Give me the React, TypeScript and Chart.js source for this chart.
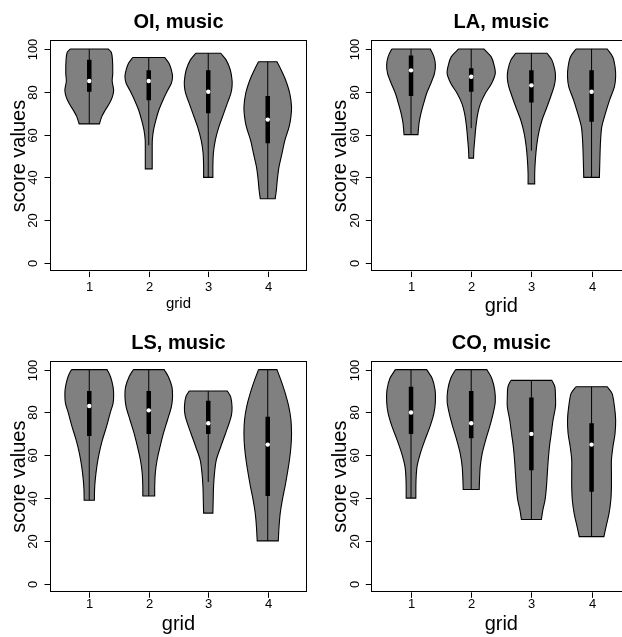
import React, { useEffect, useRef } from "react";
import { Chart, registerables } from "chart.js";

Chart.register(...registerables);

// ---------------- data ----------------
const panelTitles = ["OI, music", "LA, music", "LS, music", "CO, music"];
const groups = [1, 2, 3, 4];
const yTicks = [0, 20, 40, 60, 80, 100];
const xAxisTitle = "grid";
const yAxisTitle = "score values";

// violin outlines: [score value, half width in group units], from max to min
const oiProfiles = [
  [[100, 0.315], [98.5, 0.37], [95, 0.39], [88.6, 0.395], [85, 0.385], [80.8, 0.41], [77.7, 0.39], [74.6, 0.34], [71.5, 0.27], [68.4, 0.21], [65, 0.17]],
  [[96, 0.27], [93.3, 0.34], [90.2, 0.38], [87.1, 0.4], [84, 0.38], [80.8, 0.32], [76.2, 0.24], [71.5, 0.17], [66.8, 0.12], [62.1, 0.08], [57.5, 0.06], [52.8, 0.058], [44, 0.058]],
  [[98, 0.21], [94.9, 0.3], [90.3, 0.37], [85.5, 0.4], [82.4, 0.4], [79.3, 0.38], [74.6, 0.32], [69.9, 0.26], [63.7, 0.18], [57.5, 0.12], [51.2, 0.086], [45, 0.078], [40, 0.078]],
  [[94, 0.155], [90.2, 0.225], [85.5, 0.3], [79.3, 0.37], [73, 0.4], [68.4, 0.39], [63.7, 0.36], [57.5, 0.29], [51.2, 0.24], [45, 0.19], [38.6, 0.16], [34, 0.145], [30, 0.125]],
];
const oiQ1 = [80, 76, 70, 56];
const oiMedian = [85, 85, 80, 67];
const oiQ3 = [95, 90, 90, 78];
const oiWhiskerLow = [65, 55, 40, 30];
const oiWhiskerHigh = [100, 96, 98, 94];

const laProfiles = [
  [[100, 0.32], [96.4, 0.38], [92.5, 0.405], [88.6, 0.39], [84, 0.33], [79.3, 0.26], [74.6, 0.21], [69.9, 0.165], [65.3, 0.133], [60, 0.116]],
  [[100, 0.21], [96.4, 0.33], [92.5, 0.38], [88.6, 0.4], [84, 0.34], [79.3, 0.235], [74.6, 0.155], [69.9, 0.11], [63.7, 0.078], [57.5, 0.058], [52.8, 0.044], [49, 0.039]],
  [[98, 0.26], [94.9, 0.34], [90.2, 0.39], [86.3, 0.4], [82.4, 0.376], [77.7, 0.32], [73, 0.26], [66.8, 0.177], [60.6, 0.12], [54.4, 0.086], [48.1, 0.066], [41.9, 0.055], [37, 0.055]],
  [[100, 0.26], [96.4, 0.35], [91.7, 0.39], [87.1, 0.4], [82.4, 0.38], [76.2, 0.3], [69.9, 0.23], [63.7, 0.17], [57.5, 0.15], [50.5, 0.14], [40, 0.13]],
];
const laQ1 = [78, 80, 75, 66];
const laMedian = [90, 87, 83, 80];
const laQ3 = [97, 91, 90, 90];
const laWhiskerLow = [60, 63, 52.5, 40];
const laWhiskerHigh = [100, 100, 98, 100];

const lsProfiles = [
  [[100, 0.3], [96.7, 0.357], [92, 0.4], [88.2, 0.41], [84.3, 0.4], [79.6, 0.35], [73.4, 0.29], [67.1, 0.22], [60.9, 0.166], [54.7, 0.127], [48.4, 0.1], [43.8, 0.089], [39, 0.086]],
  [[100, 0.26], [96.7, 0.33], [92, 0.39], [87.4, 0.4], [82.6, 0.38], [76.5, 0.315], [70.2, 0.246], [64, 0.19], [57.8, 0.14], [51.6, 0.11], [45.3, 0.1], [41, 0.1]],
  [[90, 0.32], [87.4, 0.376], [82.7, 0.4], [78.8, 0.39], [74.9, 0.35], [70.2, 0.29], [64, 0.21], [57.8, 0.135], [51.6, 0.105], [45.3, 0.089], [39.1, 0.083], [33, 0.078]],
  [[100, 0.155], [95.2, 0.22], [88.9, 0.295], [82.7, 0.354], [76.5, 0.39], [70.2, 0.4], [64, 0.39], [57.8, 0.365], [51.6, 0.33], [45.3, 0.29], [39.1, 0.245], [32.9, 0.21], [26.6, 0.19], [20, 0.177]],
];
const lsQ1 = [69, 70, 70, 41];
const lsMedian = [83, 81, 75, 65];
const lsQ3 = [90, 90, 85.5, 78];
const lsWhiskerLow = [39, 41, 47.5, 20];
const lsWhiskerHigh = [100, 100, 90, 100];

const coProfiles = [
  [[100, 0.26], [96, 0.35], [90.5, 0.4], [85, 0.405], [79.6, 0.38], [73.4, 0.315], [67.1, 0.23], [60.9, 0.155], [54.7, 0.1], [48.4, 0.083], [40, 0.08]],
  [[100, 0.26], [96, 0.34], [90.5, 0.39], [85, 0.4], [79.6, 0.365], [73.4, 0.307], [67.1, 0.24], [60.9, 0.183], [54.7, 0.15], [48.4, 0.138], [44, 0.133]],
  [[95, 0.34], [92, 0.39], [87.4, 0.4], [82.7, 0.4], [76.5, 0.36], [70.2, 0.33], [64, 0.3], [57.8, 0.28], [51.6, 0.265], [45.3, 0.25], [39.1, 0.227], [34.4, 0.19], [30, 0.166]],
  [[92, 0.26], [88.9, 0.34], [82.7, 0.38], [76.5, 0.4], [70.2, 0.39], [64, 0.355], [57.8, 0.33], [51.6, 0.33], [45.3, 0.33], [39.1, 0.32], [32.9, 0.29], [26.6, 0.24], [22, 0.205]],
];
const coQ1 = [70, 68, 53, 43];
const coMedian = [80, 75, 70, 65];
const coQ3 = [92, 90, 87, 75];
const coWhiskerLow = [40, 44, 30, 22];
const coWhiskerHigh = [100, 100, 95, 92];

const panelData = [
  { profiles: oiProfiles, q1: oiQ1, med: oiMedian, q3: oiQ3, lo: oiWhiskerLow, hi: oiWhiskerHigh },
  { profiles: laProfiles, q1: laQ1, med: laMedian, q3: laQ3, lo: laWhiskerLow, hi: laWhiskerHigh },
  { profiles: lsProfiles, q1: lsQ1, med: lsMedian, q3: lsQ3, lo: lsWhiskerLow, hi: lsWhiskerHigh },
  { profiles: coProfiles, q1: coQ1, med: coMedian, q3: coQ3, lo: coWhiskerLow, hi: coWhiskerHigh },
];

// ---------------- layout ----------------
const layouts = [
  { left: 0, top: 0, w: 311, h: 318, pad: { left: 50, right: 1, top: 40.4, bottom: 46.4 }, xLabelBase: 19, xTitleBase: 36.5, xTitleSize: 15 },
  { left: 311, top: 0, w: 330, h: 318, pad: { left: 60.3, right: 9.7, top: 40.4, bottom: 46.4 }, xLabelBase: 19, xTitleBase: 40, xTitleSize: 20 },
  { left: 0, top: 318, w: 311, h: 319, pad: { left: 50, right: 1, top: 43.1, bottom: 44.7 }, xLabelBase: 15.7, xTitleBase: 37.4, xTitleSize: 20 },
  { left: 311, top: 318, w: 330, h: 319, pad: { left: 60.3, right: 9.7, top: 43.1, bottom: 44.7 }, xLabelBase: 15.7, xTitleBase: 37.4, xTitleSize: 20 },
];

const FONT = "'Liberation Sans', Arial, Helvetica, sans-serif";

function violinPoints(g: number, prof: number[][]) {
  const left = prof.map(([v, w]) => ({ x: g - w, y: v }));
  const right = prof.map(([v, w]) => ({ x: g + w, y: v })).reverse();
  const n = prof.length;
  return [...left, left[n - 1], right[0], ...right, right[n - 1], left[0]];
}

const rAxesPlugin = {
  id: "rAxes",
  afterDraw(chart: any, _args: any, opts: any) {
    const { ctx, chartArea: a, scales } = chart;
    const x = scales.x;
    const y = scales.y;
    ctx.save();
    ctx.strokeStyle = "#000";
    ctx.fillStyle = "#000";
    ctx.lineWidth = 1;
    // box
    ctx.strokeRect(Math.round(a.left) + 0.5, Math.round(a.top) + 0.5, Math.round(a.right - a.left) - 1, Math.round(a.bottom - a.top) - 1);
    // y ticks
    ctx.font = `13px ${FONT}`;
    ctx.textAlign = "center";
    ctx.textBaseline = "alphabetic";
    for (const t of yTicks) {
      const py = Math.round(y.getPixelForValue(t)) + 0.5;
      ctx.beginPath();
      ctx.moveTo(a.left, py);
      ctx.lineTo(a.left - 5.5, py);
      ctx.stroke();
      ctx.save();
      ctx.translate(a.left - 12.7, py);
      ctx.rotate(-Math.PI / 2);
      ctx.fillText(String(t), 0, 0);
      ctx.restore();
    }
    // x ticks
    for (const g of groups) {
      const px = Math.round(x.getPixelForValue(g)) + 0.5;
      ctx.beginPath();
      ctx.moveTo(px, a.bottom);
      ctx.lineTo(px, a.bottom + 5.5);
      ctx.stroke();
      ctx.fillText(String(g), px, a.bottom + opts.xLabelBase);
    }
    const cx = (a.left + a.right) / 2;
    // title
    ctx.font = `bold 20px ${FONT}`;
    ctx.fillText(opts.title, cx, a.top - 12.5);
    // x title
    ctx.font = `${opts.xTitleSize}px ${FONT}`;
    ctx.fillText(xAxisTitle, cx, a.bottom + opts.xTitleBase);
    // y title
    ctx.font = `20px ${FONT}`;
    ctx.save();
    ctx.translate(a.left - 25, (a.top + a.bottom) / 2);
    ctx.rotate(-Math.PI / 2);
    ctx.fillText(yAxisTitle, 0, 0);
    ctx.restore();
    ctx.restore();
  },
};

function Panel({ idx }: { idx: number }) {
  const ref = useRef<HTMLCanvasElement | null>(null);
  const L = layouts[idx];
  useEffect(() => {
    const d = panelData[idx];
    const datasets: any[] = [];
    groups.forEach((g, i) => {
      datasets.push({
        data: [{ x: g, y: d.med[i] }],
        showLine: false,
        pointRadius: 2.2,
        pointBackgroundColor: "#fff",
        pointBorderWidth: 0,
        order: 0,
      });
      datasets.push({
        data: [{ x: g, y: d.q1[i] }, { x: g, y: d.q3[i] }],
        showLine: true,
        borderColor: "#000",
        borderWidth: 4.5,
        borderCapStyle: "butt",
        pointRadius: 0,
        order: 1,
      });
      datasets.push({
        data: [{ x: g, y: d.lo[i] }, { x: g, y: d.hi[i] }],
        showLine: true,
        borderColor: "#000",
        borderWidth: 1,
        pointRadius: 0,
        order: 2,
      });
      datasets.push({
        data: violinPoints(g, d.profiles[i]),
        showLine: true,
        fill: "shape",
        backgroundColor: "rgb(128,128,128)",
        borderColor: "#000",
        borderWidth: 1.1,
        borderJoinStyle: "miter",
        tension: 0.3,
        pointRadius: 0,
        order: 3,
      });
    });
    const chart = new Chart(ref.current as HTMLCanvasElement, {
      type: "scatter",
      data: { datasets },
      options: {
        animation: false,
        responsive: false,
        events: [],
        layout: { padding: L.pad },
        scales: {
          x: { type: "linear", min: 0.34, max: 4.66, display: false },
          y: { type: "linear", min: -4, max: 104, display: false },
        },
        plugins: {
          legend: { display: false },
          tooltip: { enabled: false },
          rAxes: { title: panelTitles[idx], xLabelBase: L.xLabelBase, xTitleBase: L.xTitleBase, xTitleSize: L.xTitleSize },
        } as any,
      },
      plugins: [rAxesPlugin as any],
    });
    return () => chart.destroy();
  }, [idx]);
  return (
    <canvas
      ref={ref}
      width={L.w}
      height={L.h}
      style={{ position: "absolute", left: L.left, top: L.top, width: L.w, height: L.h }}
    />
  );
}

export default function App() {
  return (
    <div style={{ position: "absolute", left: 0, top: 0, width: 622, height: 637, overflow: "hidden", background: "#fff" }}>
      {[0, 1, 2, 3].map((i) => (
        <Panel key={i} idx={i} />
      ))}
    </div>
  );
}
